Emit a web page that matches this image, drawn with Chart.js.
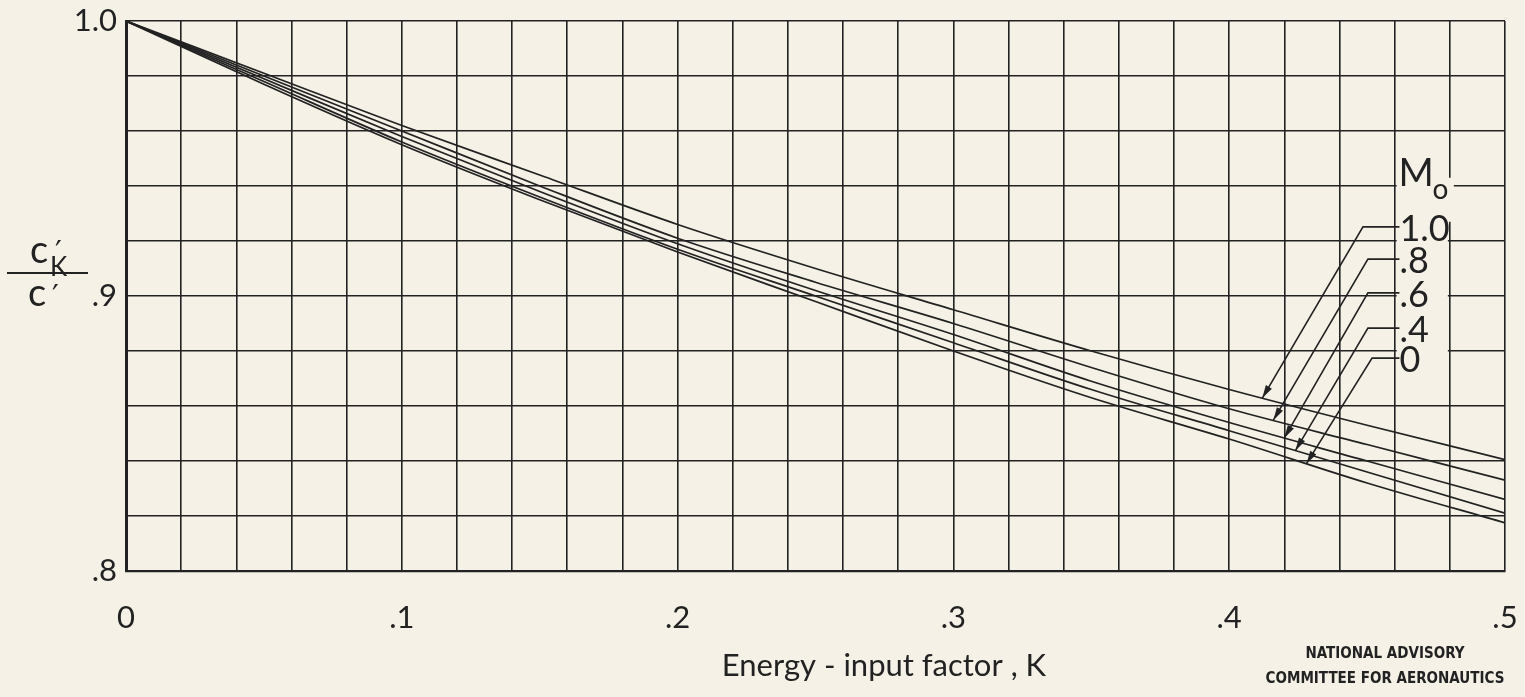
<!DOCTYPE html>
<html>
<head>
<meta charset="utf-8">
<script src="https://cdn.jsdelivr.net/npm/chart.js@4.4.1/dist/chart.umd.min.js"></script>
<style>
    html, body { margin: 0; padding: 0; background: #f6f1e7; }
    #wrap { width: 1525px; height: 697px; }
</style>
</head>
<body>
<div id="wrap"><canvas id="chart" width="1525" height="697"></canvas></div>
<script>
// energy-input factor K
const kValues = [0, 0.05, 0.1, 0.15, 0.2, 0.25, 0.3, 0.35, 0.4, 0.45, 0.5];

// c'K / c' for each free-stream Mach number
const ratioM10 = [1.0, 0.981, 0.962, 0.944, 0.926, 0.910, 0.895, 0.880, 0.866, 0.853, 0.8405];
const ratioM08 = [1.0, 0.980, 0.960, 0.940, 0.921, 0.905, 0.890, 0.874, 0.859, 0.846, 0.833];
const ratioM06 = [1.0, 0.979, 0.958, 0.938, 0.919, 0.902, 0.886, 0.869, 0.854, 0.840, 0.826];
const ratioM04 = [1.0, 0.978, 0.956, 0.936, 0.917, 0.900, 0.883, 0.866, 0.851, 0.836, 0.821];
const ratioM00 = [1.0, 0.977, 0.955, 0.935, 0.916, 0.898, 0.880, 0.863, 0.848, 0.832, 0.8175];

const machLabels = ['1.0', '.8', '.6', '.4', '0'];
const xTickLabels = ['0', '.1', '.2', '.3', '.4', '.5'];
const yTickValues = [0.8, 0.9, 1.0];
const yTickLabels = ['.8', '.9', '1.0'];

const allSeries = [ratioM10, ratioM08, ratioM06, ratioM04, ratioM00];

const INK = '#222222';
const PAPER = '#f6f1e7';
const FAMILY = 'Lato, "DejaVu Sans", sans-serif';

function valueAt(series, k) {
    for (let i = 1; i < kValues.length; i++) {
        if (k <= kValues[i]) {
            const t = (k - kValues[i - 1]) / (kValues[i] - kValues[i - 1]);
            return series[i - 1] + t * (series[i] - series[i - 1]);
        }
    }
    return series[series.length - 1];
}

function arrowHead(ctx, x0, y0, x1, y1) {
    const a = Math.atan2(y1 - y0, x1 - x0);
    const len = 13, w = 3.5;
    ctx.beginPath();
    ctx.moveTo(x1, y1);
    ctx.lineTo(x1 - len * Math.cos(a) + w * Math.sin(a), y1 - len * Math.sin(a) - w * Math.cos(a));
    ctx.lineTo(x1 - len * Math.cos(a) - w * Math.sin(a), y1 - len * Math.sin(a) + w * Math.cos(a));
    ctx.closePath();
    ctx.fill();
}

const annotations = {
    id: 'annotations',
    beforeDatasetsDraw(chart) {
        const ctx = chart.ctx;
        const xs = chart.scales.x, ys = chart.scales.y;
        // clear grid behind the Mach-number key
        ctx.save();
        ctx.fillStyle = PAPER;
        const left = xs.getPixelForValue(0.46) + 2;
        const right = xs.getPixelForValue(0.48) - 2;
        ctx.fillRect(left, ys.getPixelForValue(0.951), right - left, ys.getPixelForValue(0.867) - ys.getPixelForValue(0.951));
        ctx.fillRect(right - 2, ys.getPixelForValue(0.943), 8, ys.getPixelForValue(0.927) - ys.getPixelForValue(0.943));
        ctx.restore();
    },
    afterDraw(chart) {
        const ctx = chart.ctx;
        const xs = chart.scales.x, ys = chart.scales.y;
        ctx.save();
        ctx.fillStyle = INK;
        ctx.strokeStyle = INK;

        // key heading M0
        const keyX = xs.getPixelForValue(0.461);
        ctx.font = '400 38px ' + FAMILY;
        ctx.textBaseline = 'middle';
        ctx.textAlign = 'left';
        ctx.fillText('M', keyX + 1, ys.getPixelForValue(0.9445));
        ctx.font = '400 28px ' + FAMILY;
        ctx.fillText('o', keyX + 35, ys.getPixelForValue(0.9385));

        // key labels with leader lines
        const labelVals = [0.9244, 0.9127, 0.9004, 0.8876, 0.8767];
        const elbowK = [0.4485, 0.4503, 0.4503, 0.4503, 0.4518];
        const tipK = [0.412, 0.416, 0.420, 0.424, 0.428];
        ctx.lineWidth = 1.6;
        for (let i = 0; i < machLabels.length; i++) {
            const ly = ys.getPixelForValue(labelVals[i]);
            ctx.font = '400 36px ' + FAMILY;
            ctx.fillText(machLabels[i], keyX + 2, ly);
            const ex = xs.getPixelForValue(elbowK[i]);
            const tx = xs.getPixelForValue(tipK[i]);
            const ty = ys.getPixelForValue(valueAt(allSeries[i], tipK[i]));
            ctx.beginPath();
            ctx.moveTo(keyX + 2, ly - 2);
            ctx.lineTo(ex, ly - 2);
            ctx.lineTo(tx, ty);
            ctx.stroke();
            arrowHead(ctx, ex, ly - 2, tx, ty);
        }

        // y-axis title c'K / c'
        ctx.textBaseline = 'alphabetic';
        ctx.font = '400 38px ' + FAMILY;
        ctx.fillText('c', 30, 263);
        ctx.fillText('c', 28, 306);
        ctx.font = '400 30px "DejaVu Sans", sans-serif';
        ctx.fillText('\u2032', 55, 262);
        ctx.fillText('\u2032', 52, 306);
        ctx.font = '400 26px ' + FAMILY;
        ctx.fillText('K', 50, 276);
        ctx.lineWidth = 2;
        ctx.beginPath();
        ctx.moveTo(7, 273);
        ctx.lineTo(88, 273);
        ctx.stroke();

        // x-axis title
        ctx.textAlign = 'center';
        ctx.font = '400 31px ' + FAMILY;
        ctx.fillText('Energy - input factor , K', 884, 676);

        // agency block
        ctx.font = 'bold 15px "DejaVu Sans Condensed", "DejaVu Sans", sans-serif';
        ctx.fillText('NATIONAL ADVISORY', 1385, 658);
        ctx.fillText('COMMITTEE FOR AERONAUTICS', 1385, 683);
        ctx.restore();
    }
};

const datasets = allSeries.map((series, i) => ({
    label: 'M0 = ' + machLabels[i],
    data: kValues.map((k, j) => ({ x: k, y: series[j] })),
    borderColor: INK,
    borderWidth: 1.8,
    pointRadius: 0,
    fill: false,
    cubicInterpolationMode: 'monotone'
}));

new Chart(document.getElementById('chart').getContext('2d'), {
    type: 'line',
    data: { datasets: datasets },
    options: {
        responsive: false,
        animation: false,
        layout: { padding: { top: 21, right: 0, left: 0, bottom: 0 } },
        plugins: { legend: { display: false }, tooltip: { enabled: false } },
        scales: {
            x: {
                type: 'linear',
                min: 0,
                max: 0.5,
                afterFit(scale) {
                    scale.height = 126;
                    scale.paddingLeft = 0;
                    scale.paddingRight = 20;
                },
                ticks: {
                    stepSize: 0.02,
                    autoSkip: false,
                    maxRotation: 0,
                    padding: 28,
                    color: INK,
                    font: { family: FAMILY, size: 31, weight: '400' },
                    callback(v) {
                        const n = Math.round(v * 10);
                        return Math.abs(v * 10 - n) < 1e-6 ? xTickLabels[n] : '';
                    }
                },
                grid: { color: INK, lineWidth: 1.6, drawTicks: false },
                border: { color: INK, width: 2.2 }
            },
            y: {
                min: 0.8,
                max: 1.0,
                afterFit(scale) {
                    scale.width = 126;
                    scale.paddingTop = 0;
                    scale.paddingBottom = 0;
                },
                ticks: {
                    stepSize: 0.02,
                    autoSkip: false,
                    padding: 9,
                    color: INK,
                    font: { family: FAMILY, size: 31, weight: '400' },
                    callback(v) {
                        const idx = yTickValues.findIndex(t => Math.abs(t - v) < 1e-6);
                        return idx >= 0 ? yTickLabels[idx] : '';
                    }
                },
                grid: { color: INK, lineWidth: 1.6, drawTicks: false },
                border: { color: INK, width: 3 }
            }
        }
    },
    plugins: [annotations]
});
</script>
</body>
</html>
